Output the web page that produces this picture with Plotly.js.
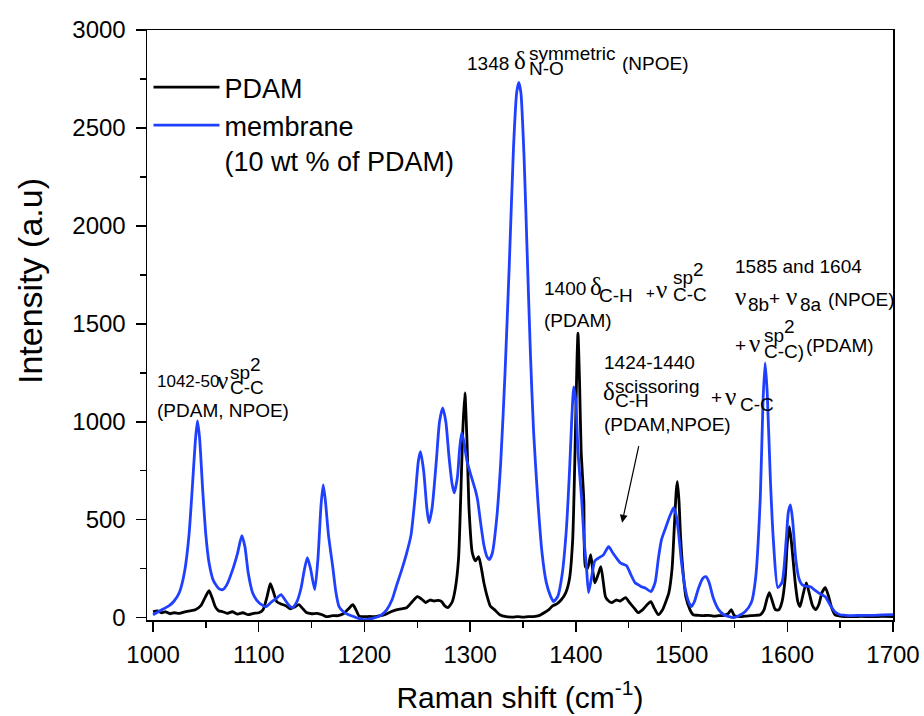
<!DOCTYPE html>
<html>
<head>
<meta charset="utf-8">
<script src="https://cdn.plot.ly/plotly-3.0.1.min.js"></script>
<style>
  html, body { margin: 0; padding: 0; background: #fff; }
  #chart { width: 924px; height: 716px; }
</style>
</head>
<body>
<div id="chart"></div>
<script>
// Raman spectra: pure PDAM and the NPOE membrane containing 10 wt % PDAM

const pdamShift = [
  1000, 1004, 1008, 1012, 1016, 1020, 1025, 1030, 1035, 1040, 1045, 1049, 1053, 1056, 1059, 1062,
  1066, 1070, 1075, 1080, 1085, 1090, 1095, 1100, 1104, 1108, 1111, 1114, 1117, 1121, 1126, 1130,
  1134, 1138, 1141, 1145, 1150, 1155, 1160, 1164, 1170, 1175, 1180, 1185, 1189, 1192, 1195, 1200,
  1205, 1210, 1215, 1219, 1225, 1230, 1235, 1240, 1245, 1250, 1254, 1258, 1262, 1266, 1270, 1273,
  1276, 1279, 1283, 1286, 1289, 1291, 1293, 1295, 1297, 1299, 1302, 1305, 1308, 1311, 1313, 1316,
  1319, 1323, 1328, 1334, 1340, 1345, 1350, 1355, 1360, 1365, 1370, 1374.5, 1378, 1382, 1386, 1390.5,
  1394, 1397, 1399, 1401, 1402, 1403.5, 1405, 1407.5, 1409, 1411, 1414, 1416, 1418, 1421, 1423.6, 1426,
  1428, 1431, 1434, 1438, 1442, 1447, 1451, 1455, 1459, 1463, 1468, 1471, 1474, 1478, 1482, 1485,
  1488, 1491, 1493, 1495, 1496, 1497.5, 1499, 1501, 1504, 1508, 1511, 1516, 1520, 1525, 1530, 1535,
  1540, 1544, 1547, 1550, 1555, 1560, 1565, 1570, 1574.5, 1578, 1581, 1583, 1585.5, 1588.7, 1592, 1595,
  1598, 1600, 1602, 1604, 1607.5, 1610, 1612, 1615, 1618, 1621, 1624, 1627, 1630, 1633, 1636, 1639,
  1642, 1645, 1650, 1660, 1670, 1680, 1690, 1700
];
const pdamIntensity = [
  30, 35, 25, 30, 20, 25, 22, 30, 35, 40, 60, 100, 138, 100, 55, 35,
  30, 22, 30, 18, 25, 15, 22, 25, 40, 110, 173, 130, 82, 70, 60, 45,
  55, 66, 50, 26, 20, 22, 15, 5, 10, 10, 20, 45, 66, 40, 8, 5,
  6, 5, 10, 15, 30, 40, 45, 51, 80, 107, 95, 77, 90, 85, 88, 82,
  60, 51, 80, 150, 300, 600, 950, 1148, 900, 550, 331, 290, 311, 240, 178, 110,
  60, 41, 15, 5, 3, 5, 3, 5, 5, 10, 25, 41, 60, 70, 90, 128,
  200, 400, 800, 1300, 1453, 1200, 850, 602, 260, 250, 321, 240, 178, 220, 260, 180,
  107, 85, 77, 90, 85, 102, 75, 50, 26, 40, 70, 82, 50, 15, 40, 80,
  128, 250, 450, 650, 694, 600, 420, 260, 107, 40, 15, 12, 10, 12, 8, 10,
  12, 20, 41, 10, 5, 8, 10, 12, 15, 40, 100, 128, 90, 41, 40, 80,
  200, 380, 464, 380, 178, 80, 56, 120, 178, 120, 60, 41, 70, 130, 153, 110,
  50, 15, 8, 5, 6, 5, 6, 5
];

const membraneShift = [
  1000, 1005, 1010, 1015, 1020, 1025, 1030, 1034, 1037, 1040, 1042, 1044, 1047, 1050, 1053, 1057,
  1062, 1066, 1070, 1075, 1080, 1084, 1087, 1090, 1094, 1098, 1103, 1107, 1112, 1117, 1121, 1125,
  1129, 1132, 1136, 1140, 1143, 1146, 1149, 1153, 1156, 1159, 1161, 1163, 1166, 1170, 1173, 1176,
  1180, 1185, 1190, 1195, 1200, 1205, 1210, 1215, 1221, 1226, 1230, 1235, 1240, 1244, 1248, 1251,
  1253, 1256, 1259, 1261, 1264, 1268, 1271, 1274, 1277, 1280, 1283, 1285, 1288, 1290, 1292, 1294,
  1297, 1300, 1302, 1305, 1307, 1310, 1313, 1316, 1318, 1321, 1325, 1329, 1333, 1337, 1341, 1344,
  1346, 1348, 1351, 1354, 1357, 1360, 1364, 1368, 1372, 1376, 1379, 1383, 1387, 1391, 1394, 1396,
  1398, 1400, 1402, 1405.5, 1408, 1410, 1412, 1415, 1418, 1422, 1426, 1431, 1435, 1439, 1442, 1446,
  1448, 1452, 1456, 1460, 1462, 1466, 1471, 1475, 1478, 1481, 1485, 1489, 1492.5, 1495, 1497, 1500,
  1503, 1506, 1509, 1512, 1516, 1520, 1523, 1526, 1530, 1535, 1540, 1545, 1549, 1554, 1560, 1566,
  1570, 1574.5, 1577, 1579, 1581, 1584, 1587, 1591, 1595, 1599, 1601, 1603, 1605, 1608, 1611, 1614,
  1618, 1622, 1626, 1630, 1636, 1640, 1645, 1650, 1655, 1660, 1670, 1680, 1690, 1700
];
const membraneIntensity = [
  15, 30, 45, 60, 85, 130, 240, 420, 650, 900, 1005, 920, 650, 420, 280, 190,
  150, 143, 170, 240, 330, 418, 360, 230, 130, 90, 65, 56, 80, 100, 117, 90,
  60, 51, 80, 150, 240, 306, 250, 143, 300, 580, 678, 600, 420, 260, 130, 56,
  30, 15, 5, -5, -10, -8, 0, 10, 40, 90, 158, 240, 331, 420, 620, 800,
  847, 750, 560, 485, 560, 800, 1000, 1071, 1000, 820, 680, 637, 720, 860, 943, 900,
  800, 740, 704, 650, 602, 480, 370, 310, 296, 330, 500, 800, 1250, 1800, 2400, 2680,
  2733, 2680, 2350, 1850, 1350, 950, 600, 330, 180, 110, 82, 110, 220, 450, 750, 1000,
  1178, 1100, 850, 602, 380, 260, 128, 210, 290, 306, 320, 362, 330, 300, 280, 270,
  265, 220, 178, 165, 158, 150, 133, 180, 300, 398, 460, 520, 561, 520, 440, 280,
  160, 90, 56, 80, 150, 200, 209, 180, 100, 41, 15, 5, 0, 10, 30, 77,
  200, 617, 1100, 1300, 1150, 704, 380, 153, 180, 400, 540, 576, 500, 300, 200, 168,
  160, 158, 140, 125, 107, 70, 30, 15, 12, 10, 12, 12, 14, 15
];

const seriesNames = ['PDAM', 'membrane<br>(10 wt % of PDAM)'];
const xTickValues = [1000, 1100, 1200, 1300, 1400, 1500, 1600, 1700];
const yTickValues = [0, 500, 1000, 1500, 2000, 2500, 3000];

const FONT = 'Liberation Sans, Arial, sans-serif';
const SERIF = 'Liberation Serif, serif';
const W = 924, H = 716;
const M = { l: 147, r: 31, t: 30, b: 96 };

// page pixel -> paper fraction, used to place the band labels
const fx = px => (px - M.l) / (W - M.l - M.r);
const fy = py => (H - M.b - py) / (H - M.t - M.b);

function label(px, py, text, size, family) {
  return {
    xref: 'paper', yref: 'paper', x: fx(px), y: fy(py),
    xanchor: 'left', yanchor: 'middle', showarrow: false, borderpad: 0,
    text: text, font: { family: family || FONT, size: size, color: '#000' }
  };
}
// Greek symbols are set larger, in a serif face
const greek = (px, py, ch) => label(px, py, ch, 25, SERIF);

const T = 19;   // label text
const S = 19;   // sub/superscripts

const annotations = [
  // 1348 band
  label(466, 63, '1348', T),
  greek(513, 61, 'δ'),
  label(528, 53, 'symmetric', S),
  label(528, 68, 'N-O', S),
  label(621, 63, '(NPOE)', T),
  // 1042-50 band
  label(156, 381, '1042-50', 17),
  greek(216, 380, 'ν'),
  label(229, 372, 'sp', S),
  label(249, 364, '2', S),
  label(229, 387, 'C-C', S),
  label(156, 411, '(PDAM, NPOE)', T),
  // 1400 band
  label(543, 288, '1400', T),
  greek(589, 286, 'δ'),
  label(598, 295, 'C-H', S),
  label(645, 292, '+', 15),
  greek(655, 289, 'ν'),
  label(672, 277, 'sp', S),
  label(692, 269, '2', S),
  label(672, 294, 'C-C', S),
  label(543, 320, '(PDAM)', T),
  // 1424-1440 band
  label(603, 362, '1424-1440', T),
  greek(602, 391, 'δ'),
  label(614, 386, 'scissoring', S),
  label(614, 400, 'C-H', S),
  label(710, 398, '+', T),
  greek(724, 396, 'ν'),
  label(739, 404, 'C-C', S),
  label(603, 424, '(PDAM,NPOE)', T),
  // 1585 and 1604 bands
  label(734, 266, '1585 and 1604', T),
  greek(734, 296, 'ν'),
  label(747, 304, '8b', S),
  label(768, 298, '+', T),
  greek(785, 296, 'ν'),
  label(799, 304, '8a', S),
  label(827, 299, '(NPOE)', T),
  label(734, 345, '+', T),
  greek(748, 343, 'ν'),
  label(763, 335, 'sp', S),
  label(783, 327, '2', S),
  label(763, 351, 'C-C)', S),
  label(805, 345, '(PDAM)', T),
  // arrow pointing at the 1424-1440 shoulder
  {
    xref: 'x', yref: 'y', x: 1443.7, y: 485, ax: 17, ay: -78,
    text: '', showarrow: true, arrowhead: 2, arrowsize: 1.3, arrowwidth: 1.2,
    arrowcolor: '#000'
  },
  // y-axis title
  {
    xref: 'paper', yref: 'paper', x: fx(30), y: fy(281),
    xanchor: 'center', yanchor: 'middle', showarrow: false, textangle: -90,
    text: 'Intensity (a.u)', font: { family: FONT, size: 34, color: '#000' }
  }
];

const traces = [
  {
    x: pdamShift, y: pdamIntensity, name: seriesNames[0], type: 'scatter', mode: 'lines',
    line: { color: '#000000', width: 2.8, shape: 'spline', smoothing: 0.6 }
  },
  {
    x: membraneShift, y: membraneIntensity, name: seriesNames[1], type: 'scatter', mode: 'lines',
    line: { color: '#2040ff', width: 2.8, shape: 'spline', smoothing: 0.6 }
  }
];

const axisCommon = {
  showline: true, linecolor: '#000', linewidth: 1.5, mirror: true,
  ticks: 'outside', ticklen: 10, tickwidth: 1.5, tickcolor: '#000',
  showgrid: false, zeroline: false,
  tickfont: { family: FONT, size: 24, color: '#000' }
};

const layout = {
  width: W, height: H,
  margin: M,
  paper_bgcolor: '#fff', plot_bgcolor: '#fff',
  font: { family: FONT, color: '#000' },
  showlegend: true,
  legend: {
    x: 0.002, y: 0.944, xanchor: 'left', yanchor: 'top',
    bgcolor: 'rgba(0,0,0,0)', borderwidth: 0, valign: 'top',
    itemwidth: 66, tracegroupgap: 0,
    font: { family: FONT, size: 27, color: '#000' }
  },
  xaxis: Object.assign({}, axisCommon, {
    range: [994.3, 1700], tickvals: xTickValues, ticktext: xTickValues.map(String),
    ticklabelstandoff: 3,
    minor: { dtick: 50, tick0: 1000, ticks: 'outside', ticklen: 6, tickwidth: 1.5, tickcolor: '#000', showgrid: false },
    title: { text: 'Raman shift (cm<sup>-1</sup>)', font: { family: FONT, size: 30, color: '#000' }, standoff: 19 }
  }),
  yaxis: Object.assign({}, axisCommon, {
    range: [-12, 3000], tickvals: yTickValues, ticktext: yTickValues.map(String),
    ticklabelstandoff: 5,
    minor: { dtick: 250, tick0: 0, ticks: 'outside', ticklen: 6, tickwidth: 1.5, tickcolor: '#000', showgrid: false }
  }),
  annotations: annotations
};

Plotly.newPlot('chart', traces, layout, { displayModeBar: false, staticPlot: true });
</script>
</body>
</html>
